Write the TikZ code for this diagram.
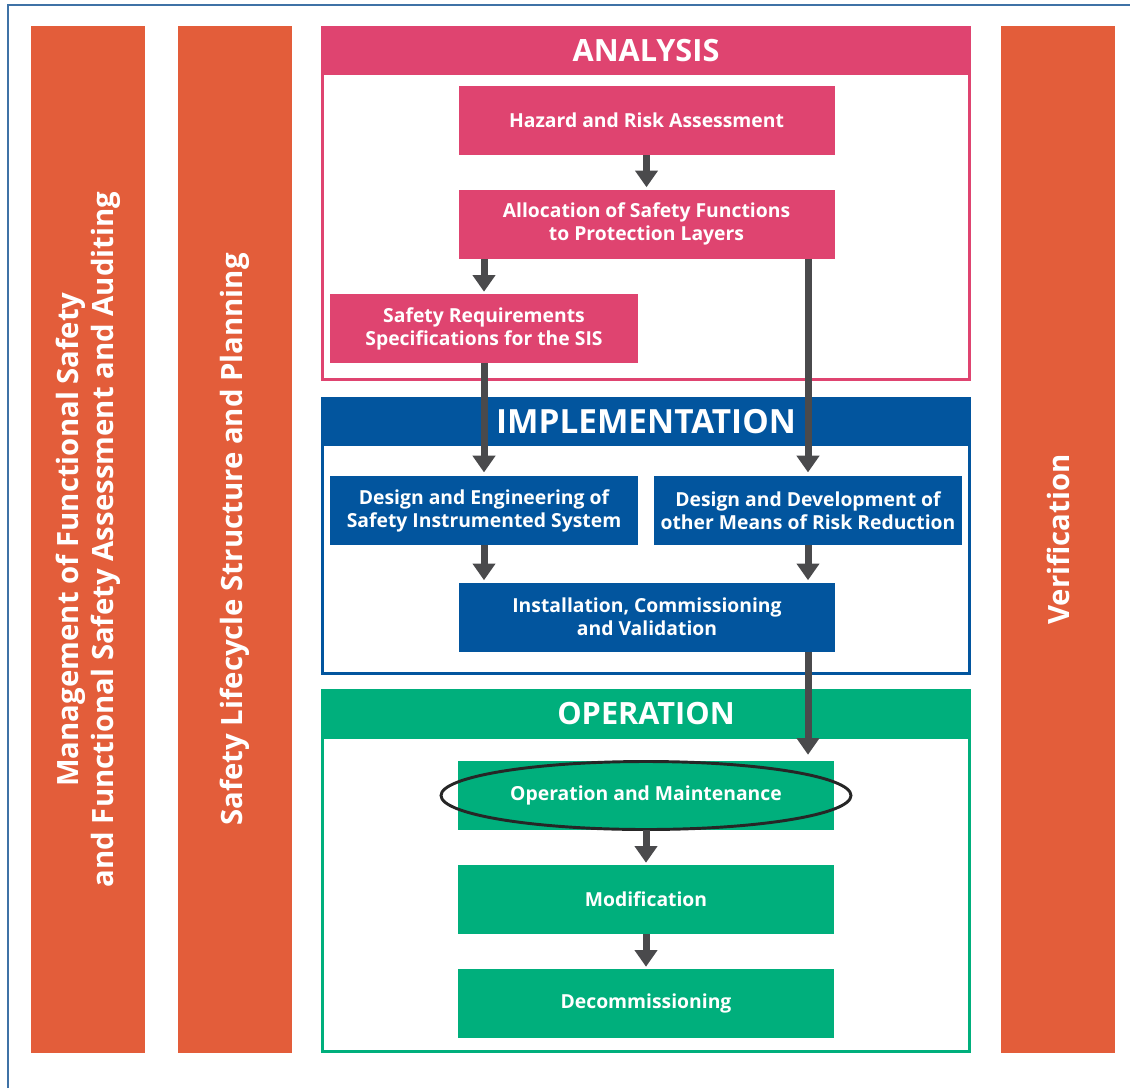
\documentclass[tikz,border=0pt]{standalone}
\usepackage{fontspec}
\setmainfont{Open Sans}
\usetikzlibrary{arrows.meta}

\definecolor{barorange}{HTML}{E35D3A}
\definecolor{anapink}{HTML}{DF4470}
\definecolor{impblue}{HTML}{02559E}
\definecolor{opgreen}{HTML}{00AF7C}
\definecolor{arrowgray}{HTML}{4A4A4C}
\definecolor{edgeblue}{HTML}{3F72A6}

\begin{document}
\begin{tikzpicture}[x=0.75pt,y=-0.75pt,
  box/.style={fill=#1, text=white, font=\bfseries\fontsize{14.5}{17.3}\selectfont, align=center, inner sep=0pt},
  wbox/.style={minimum width=376*0.75pt, minimum height=69*0.75pt},
  nbox/.style={minimum width=308*0.75pt, minimum height=69*0.75pt},
  head/.style={fill=#1, text=white, font=\bfseries\fontsize{23}{26}\selectfont, minimum width=650*0.75pt, minimum height=49*0.75pt, inner sep=0pt},
  bar/.style={fill=barorange, text=white, font=\bfseries\fontsize{22}{26.5}\selectfont, align=center, rotate=90, minimum width=1027*0.75pt, minimum height=114*0.75pt, inner sep=0pt},
  flow/.style={draw=arrowgray, line width=5.25pt, -{Triangle[width=16.5pt,length=12.5pt]}, shorten >=1.5pt}]

  \useasboundingbox (0,0) rectangle (1130,1088);

  %outer edge
  \draw[edgeblue, line width=1.8pt] (8,1088) -- (8,5) -- (1130,5);

  %side bars
  \def\ym{539.5};
    \foreach \x/\name/\txt in {88/mgmt/{Management of Functional Safety\\and Functional Safety Assessment and Auditing}, 235/plan/{Safety Lifecycle Structure and Planning}, 1058/verif/{Verification}}{
         \node[bar] (\name) at (\x, \ym) {\txt};
    }

  %phase frames
  \def\l{322.5};
  \def\r{969.5};
  \draw[anapink, line width=2.25pt] (\l,27.5) rectangle (\r,379.5);
  \draw[impblue, line width=2.25pt] (\l,398.5) rectangle (\r,673.5);
  \draw[opgreen, line width=2.25pt] (\l,690.5) rectangle (\r,1051.5);

  \node[head=anapink] (anahead) at (646,50.5) {ANALYSIS};
  \node[head=impblue, font=\bfseries\fontsize{25}{28}\selectfont] (imphead) at (646,421.5) {IMPLEMENTATION};
  \node[head=opgreen] (ophead) at (646,714) {OPERATION};

  %analysis
  \node[box=anapink, wbox] (haz) at (646.5,120.5) {Hazard and Risk Assessment};
  \node[box=anapink, wbox] (alloc) at (646.5,224) {Allocation of Safety Functions\\to Protection Layers};
  \node[box=anapink, nbox] (srs) at (484,328.5) {Safety Requirements\\Specifications for the SIS};

  %implementation
  \node[box=impblue, nbox] (eng) at (484,510.5) {Design and Engineering of\\Safety Instrumented System};
  \node[box=impblue, nbox] (dev) at (808,510.5) {Design and Development of\\other Means of Risk Reduction};
  \node[box=impblue, wbox] (inst) at (647,617) {Installation, Commissioning\\and Validation};

  %operation
  \node[box=opgreen, wbox] (om) at (646,795.5) {Operation and Maintenance};
  \node[box=opgreen, wbox] (mod) at (646,899.5) {Modification};
  \node[box=opgreen, wbox] (dec) at (646,1003.5) {Decommissioning};

  \draw[line width=2.2pt, draw=black!85] (om) ellipse [x radius=205, y radius=34];

  %arrows
  \draw[flow] (haz) -- (alloc);
  \draw[flow] (srs.north |- alloc.south) -- (srs);
  \draw[flow, shorten >=2.5pt] (dev.north |- alloc.south) -- (dev);
  \draw[flow, shorten >=2.5pt] (srs) -- (eng);
  \draw[flow] (eng) -- (eng.south |- inst.north);
  \draw[flow] (dev) -- (dev.south |- inst.north);
  \draw[flow, shorten >=4.5pt] (inst.south -| dev.south) -- (om.north -| dev.south);
  \draw[flow] (om) -- (mod);
  \draw[flow] (mod) -- (dec);

\end{tikzpicture}
\end{document}
